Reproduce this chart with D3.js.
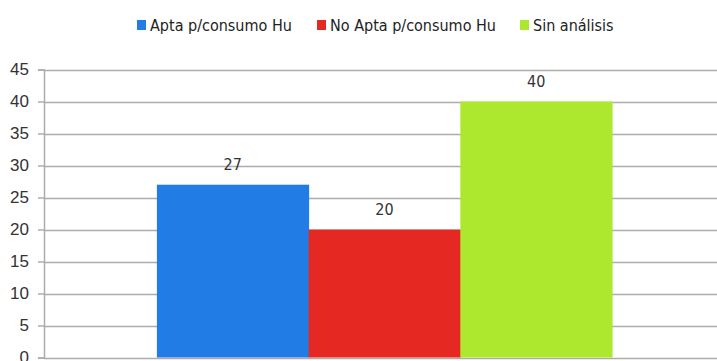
<!DOCTYPE html>
<html>
<head>
<meta charset="utf-8">
<script src="https://cdn.jsdelivr.net/npm/d3@7"></script>
<style>
  html, body { margin: 0; padding: 0; background: #fff; }
  svg { display: block; font-family: "DejaVu Sans Condensed", sans-serif; }
</style>
</head>
<body>
<svg id="chart" width="717" height="361"></svg>
<script>
'use strict';

// data
var series = ['Apta p/consumo Hu', 'No Apta p/consumo Hu', 'Sin análisis'];
var values = [27, 20, 40];
var colors = ['#217de5', '#e52922', '#aee82e'];
var yTicks = [0, 5, 10, 15, 20, 25, 30, 35, 40, 45];

(function() {
  var svg = d3.select('#chart');
  var width = 717;

  // plot area (extends past the window on the right / bottom like the crop)
  var plotLeft = 44, plotRight = 725, plotTop = 69.5, plotBottom = 357.5;

  var y = d3.scaleLinear().domain([0, 45]).range([plotBottom, plotTop]);

  // the single category group, bars inside it
  var x0 = d3.scaleBand().domain(['g']).range([plotLeft, plotRight]).paddingInner(0).paddingOuter(0.248);
  var x1 = d3.scaleBand().domain(series).range([x0('g'), x0('g') + x0.bandwidth()]);

  // gridlines
  svg.append('g')
    .selectAll('line')
    .data(yTicks)
    .enter().append('line')
    .attr('x1', plotLeft)
    .attr('x2', width)
    .attr('y1', function(d) { return Math.round(y(d)) + 0.5; })
    .attr('y2', function(d) { return Math.round(y(d)) + 0.5; })
    .attr('stroke', '#acacac')
    .attr('stroke-width', 1.5);

  // y axis
  var yAxis = d3.axisLeft(y).tickValues(yTicks).tickSize(6).tickPadding(9);
  var gy = svg.append('g').attr('transform', 'translate(' + plotLeft + ',0)').call(yAxis);
  gy.select('.domain').attr('stroke', '#acacac').attr('stroke-width', 1.5);
  gy.selectAll('.tick line').attr('stroke', '#acacac').attr('stroke-width', 1.5);
  gy.selectAll('.tick text')
    .attr('fill', '#333')
    .style('font-size', '17px');

  // bars
  svg.append('g')
    .selectAll('rect')
    .data(values)
    .enter().append('rect')
    .attr('x', function(d, i) { return x1(series[i]); })
    .attr('y', function(d) { return y(d); })
    .attr('width', x1.bandwidth() + 0.5)
    .attr('height', function(d) { return y(0) - y(d); })
    .attr('fill', function(d, i) { return colors[i]; });

  // value labels
  svg.append('g')
    .selectAll('text')
    .data(values)
    .enter().append('text')
    .attr('x', function(d, i) { return x1(series[i]) + x1.bandwidth() / 2; })
    .attr('y', function(d) { return y(d) - 15; })
    .attr('text-anchor', 'middle')
    .attr('fill', '#333')
    .style('font-size', '16px')
    .text(function(d) { return d; });

  // legend
  var legendX = [137, 317, 520];
  var legend = svg.append('g')
    .selectAll('g')
    .data(series)
    .enter().append('g')
    .attr('transform', function(d, i) { return 'translate(' + legendX[i] + ',20)'; });

  legend.append('rect')
    .attr('width', 9)
    .attr('height', 10)
    .attr('fill', function(d, i) { return colors[i]; });

  legend.append('text')
    .attr('x', 13)
    .attr('y', 11)
    .attr('fill', '#222')
    .style('font-size', '16px')
    .text(function(d) { return d; });
})();
</script>
</body>
</html>
